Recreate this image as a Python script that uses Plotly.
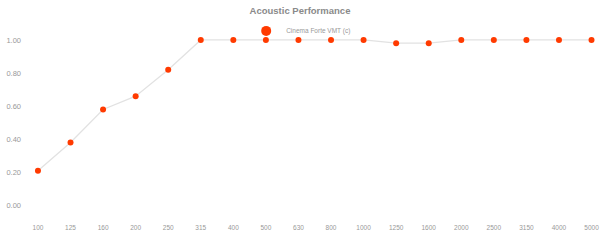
import plotly.graph_objects as go

freqs = ["100", "125", "160", "200", "250", "315", "400", "500", "630", "800",
         "1000", "1250", "1600", "2000", "2500", "3150", "4000", "5000"]
values = [0.21, 0.38, 0.58, 0.66, 0.82, 1.00, 1.00, 1.00, 1.00, 1.00,
          1.00, 0.98, 0.98, 1.00, 1.00, 1.00, 1.00, 1.00]
series_name = "Cinema Forte VMT (c)"
ytick_vals = [0.0, 0.2, 0.4, 0.6, 0.8, 1.0]

fig = go.Figure()
fig.add_trace(go.Scatter(
    x=freqs, y=values, mode="lines+markers", showlegend=False,
    line=dict(color="#e2e2e2", width=1.3),
    marker=dict(color="#ff3a00", size=6),
    name=series_name,
))
fig.add_trace(go.Scatter(
    x=[None], y=[None], mode="markers", name=series_name,
    marker=dict(color="#ff3a00", size=10),
))

fig.update_layout(
    width=600, height=240,
    margin=dict(l=22, r=0, t=25, b=18),
    paper_bgcolor="white", plot_bgcolor="white",
    font=dict(family="Liberation Sans, Arial, sans-serif", size=8, color="#999"),
    title=dict(text="<b>Acoustic Performance</b>", x=0.5, xanchor="center",
               yref="container", y=0.955, yanchor="middle",
               font=dict(size=9.5, color="#8a8a8a")),
    legend=dict(orientation="h", x=0.483, xanchor="center", y=0.97, yanchor="middle",
                font=dict(size=6.5, color="#999"), bgcolor="rgba(0,0,0,0)",
                itemwidth=30),
    xaxis=dict(type="category", range=[-0.49, 17.26], showgrid=False, zeroline=False,
               showline=False, ticks="", tickfont=dict(size=6.5, color="#999")),
    yaxis=dict(range=[-0.1, 1.09], tickvals=ytick_vals, tickformat=".2f",
               showgrid=False, zeroline=False, showline=False, ticks="",
               tickfont=dict(size=7.5, color="#999")),
)

fig.write_html("out.html")
